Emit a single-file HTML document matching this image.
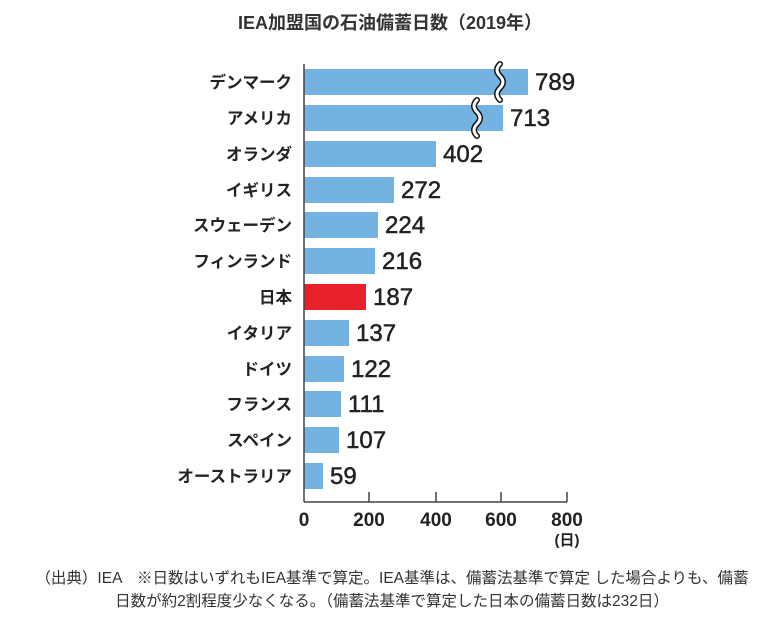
<!DOCTYPE html>
<html><head><meta charset="utf-8"><style>
body{margin:0;background:#fff;width:779px;height:614px;overflow:hidden}
text{font-family:"Liberation Sans","Noto Sans CJK JP",sans-serif}
</style></head><body>
<svg width="779" height="614" xmlns="http://www.w3.org/2000/svg">
<text x="390" y="29" text-anchor="middle" font-size="18" font-weight="bold" fill="#333">IEA加盟国の石油備蓄日数（2019年）</text>
<g font-size="16.5" font-weight="bold" fill="#222" text-anchor="end">
<text x="292" y="88">デンマーク</text>
<text x="292" y="124">アメリカ</text>
<text x="292" y="160">オランダ</text>
<text x="292" y="196">イギリス</text>
<text x="292" y="231">スウェーデン</text>
<text x="292" y="267">フィンランド</text>
<text x="292" y="303">日本</text>
<text x="292" y="339">イタリア</text>
<text x="292" y="375">ドイツ</text>
<text x="292" y="410">フランス</text>
<text x="292" y="446">スペイン</text>
<text x="292" y="482">オーストラリア</text>
</g>
<g fill="#74b2e2">
<rect x="304" y="69" width="224" height="26"/>
<rect x="304" y="105" width="199" height="26"/>
<rect x="304" y="141" width="132" height="26"/>
<rect x="304" y="177" width="90" height="26"/>
<rect x="304" y="212" width="74" height="26"/>
<rect x="304" y="248" width="71" height="26"/>
<rect x="304" y="284" width="62" height="26" fill="#e8202a"/>
<rect x="304" y="320" width="45" height="26"/>
<rect x="304" y="356" width="40" height="26"/>
<rect x="304" y="391" width="37" height="26"/>
<rect x="304" y="427" width="35" height="26"/>
<rect x="304" y="463" width="19" height="26"/>
</g>
<g fill="none" stroke-linecap="round">
<path d="M500 64 q-6 6 0 12 q6 6 0 12 q-6 6 0 12" stroke="#111" stroke-width="6"/>
<path d="M500 64 q-6 6 0 12 q6 6 0 12 q-6 6 0 12" stroke="#fff" stroke-width="3"/>
<path d="M477 100 q-6 6 0 12 q6 6 0 12 q-6 6 0 12" stroke="#111" stroke-width="6"/>
<path d="M477 100 q-6 6 0 12 q6 6 0 12 q-6 6 0 12" stroke="#fff" stroke-width="3"/>
</g>
<g font-size="24" fill="#222" stroke="#222" stroke-width="0.5">
<text x="535" y="90">789</text>
<text x="510" y="126">713</text>
<text x="443" y="162">402</text>
<text x="401" y="198">272</text>
<text x="385" y="233">224</text>
<text x="382" y="269">216</text>
<text x="373" y="305">187</text>
<text x="356" y="341">137</text>
<text x="351" y="377">122</text>
<text x="348" y="412">111</text>
<text x="346" y="448">107</text>
<text x="330" y="484">59</text>
</g>
<g stroke="#444" stroke-width="1.5">
<line x1="304" y1="64" x2="304" y2="502"/>
<line x1="304" y1="502" x2="567" y2="502"/>
<line x1="369" y1="492" x2="369" y2="502"/>
<line x1="436" y1="492" x2="436" y2="502"/>
<line x1="501" y1="492" x2="501" y2="502"/>
<line x1="567" y1="492" x2="567" y2="502"/>
</g>
<g font-size="19" font-weight="bold" fill="#222" text-anchor="middle">
<text x="304" y="526">0</text>
<text x="369" y="526">200</text>
<text x="436" y="526">400</text>
<text x="501" y="526">600</text>
<text x="567" y="526">800</text>
<text x="567" y="545" font-size="15">(日)</text>
</g>
<g font-size="15.5" fill="#333" text-anchor="middle">
<text x="392" y="583">（出典）IEA　※日数はいずれもIEA基準で算定。IEA基準は、備蓄法基準で算定 した場合よりも、備蓄</text>
<text x="392" y="606">日数が約2割程度少なくなる。（備蓄法基準で算定した日本の備蓄日数は232日）</text>
</g>
</svg>
</body></html>
